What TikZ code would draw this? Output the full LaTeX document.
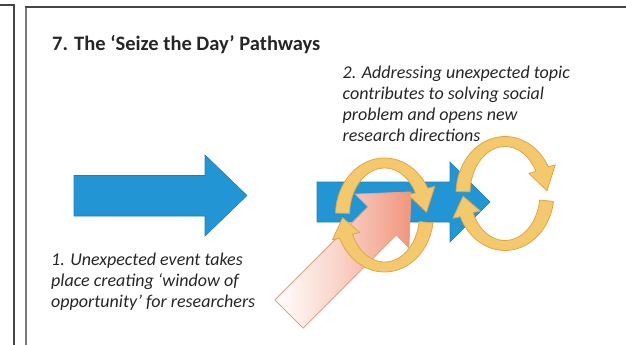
\documentclass[tikz,border=0pt]{standalone}
\usepackage{fontspec}
\setmainfont{Carlito}
\usetikzlibrary{calc}
\definecolor{framecol}{RGB}{70,70,70}
\definecolor{panelcol}{RGB}{120,120,120}
\definecolor{bluearrow}{RGB}{34,150,212}
\definecolor{salmon}{RGB}{240,150,125}
\definecolor{salmonedge}{RGB}{232,160,130}
\definecolor{goldfill}{RGB}{244,200,108}
\definecolor{goldedge}{RGB}{224,166,70}
\definecolor{txt}{RGB}{38,38,38}
\tikzset{
  bluebox/.style={fill=bluearrow, draw=bluearrow!85!black, line width=0.6pt},
  ribbon/.style={fill=goldfill, draw=goldedge, line width=0.8pt, line join=round},
  label/.style={font=\fontsize{18}{21}\selectfont\itshape, text=txt, align=left, inner sep=0pt, anchor=base west},
}
\newcommand{\ringarrow}[4]{%
  \filldraw[ribbon] ($(#1)+(#2:49 and 57)$) arc[start angle=#2, end angle=#3, x radius=49, y radius=57]
    -- ($(#1)+(#3:57 and 61)$) -- ($(#1)+(#4:42 and 52)$) -- ($(#1)+(#3:27 and 43)$)
    -- ($(#1)+(#3:35 and 47)$) arc[start angle=#3, end angle=#2, x radius=35, y radius=47] -- cycle;}
\begin{document}
\begin{tikzpicture}[x=1pt,y=1pt]
\useasboundingbox (0,0) rectangle (626,-345);
% panel frames
\draw[framecol, line width=2pt] (0,-5) -- (14,-5) -- (14,-345);
\draw[panelcol, line width=1.6pt] (26,-345) -- (26,-7);
\draw[framecol, line width=2pt] (25.2,-7) -- (627,-7);
% title
\node[font=\fontsize{20.5}{25}\selectfont\bfseries, text=txt, inner sep=0pt, anchor=base west] (title) at (52,-51) {7. The ‘Seize the Day’ Pathways};
% blue arrow 1
\draw[bluebox] (74,-175.5) -- (205,-175.5) -- (205,-155) -- (247,-195.5) -- (205,-236) -- (205,-216) -- (74,-216) -- cycle;
% blue arrow 2
\draw[bluebox] (317,-182) -- (450,-182) -- (450,-162) -- (490,-202) -- (450,-242) -- (450,-222) -- (317,-222) -- cycle;
% salmon arrow
\begin{scope}[shift={(289,-314)}, rotate=45]
  \draw[salmonedge, line width=0.8pt, left color=white, right color=salmon, middle color=salmon!45!white]
    (0,-20) -- (131.6,-20) -- (131.6,-38) -- (172.6,0) -- (131.6,38) -- (131.6,20) -- (0,20) -- cycle;
\end{scope}
% circular arrows
\coordinate (c1) at (384.5,-215);
\coordinate (c2) at (505,-193.5);
\ringarrow{c1}{178}{28}{3}
\ringarrow{c1}{-8}{-156}{-177}
\ringarrow{c2}{178}{28}{3}
\ringarrow{c2}{-8}{-156}{-177}
% texts (anchor = baseline of last line)
\node[label] (t2) at (342.5,-141) {2. Addressing unexpected topic\\contributes to solving social\\problem and opens new\\research directions};
\node[label] (t1) at (51,-307) {1. Unexpected event takes\\place creating ‘window of\\opportunity’ for researchers};
\end{tikzpicture}
\end{document}
